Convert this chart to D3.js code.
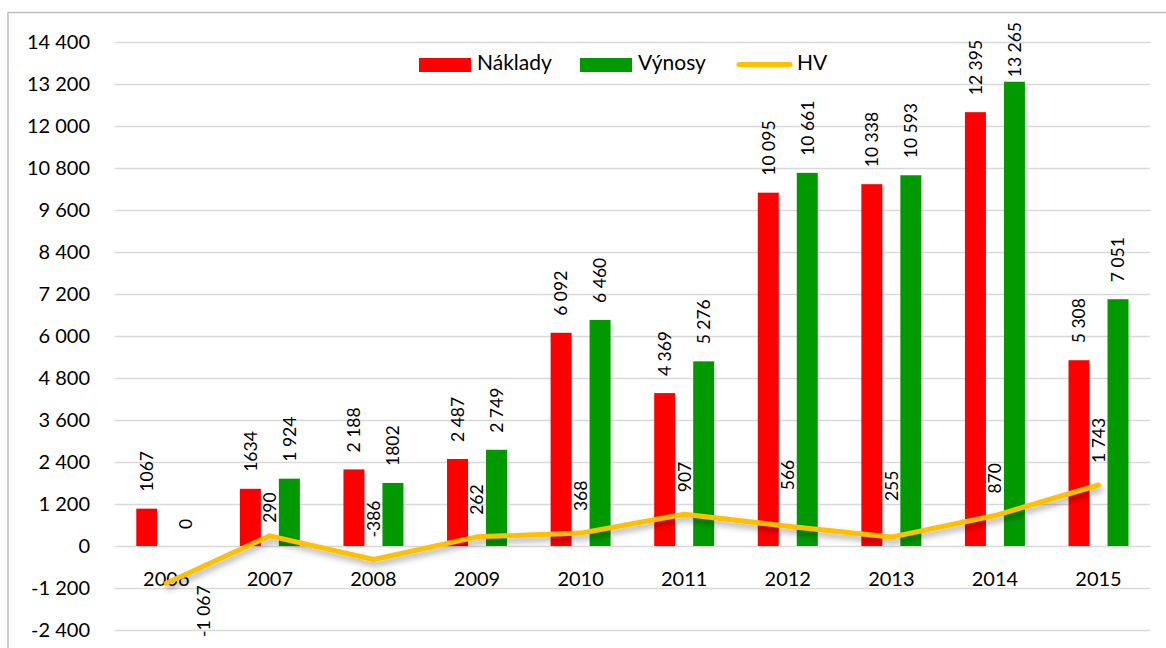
<!DOCTYPE html>
<html>
<head>
<meta charset="utf-8">
<script src="https://cdn.jsdelivr.net/npm/d3@7"></script>
<style>
  html, body { margin: 0; padding: 0; background: #fff; }
  svg { display: block; font-family: Lato, "Open Sans", sans-serif; }
</style>
</head>
<body>
<svg id="chart" width="1166" height="648"></svg>
<script>
// ---- data ----
const years = ["2006","2007","2008","2009","2010","2011","2012","2013","2014","2015"];
const naklady = [1067, 1634, 2188, 2487, 6092, 4369, 10095, 10338, 12395, 5308];
const vynosy  = [0, 1924, 1802, 2749, 6460, 5276, 10661, 10593, 13265, 7051];
const hv      = [-1067, 290, -386, 262, 368, 907, 566, 255, 870, 1743];
const nakladyLabels = ["1067","1634","2 188","2 487","6 092","4 369","10 095","10 338","12 395","5 308"];
const vynosyLabels  = ["0","1 924","1802","2 749","6 460","5 276","10 661","10 593","13 265","7 051"];
const hvLabels      = ["-1 067","290","-386","262","368","907","566","255","870","1 743"];
const yTicks = [-2400,-1200,0,1200,2400,3600,4800,6000,7200,8400,9600,10800,12000,13200,14400];
const seriesNames = ["Náklady","Výnosy","HV"];

// ---- styles ----
const colRed = "#ff0000", colGreen = "#009900", colLine = "#ffc000";
const textCol = "#000";

const svg = d3.select("#chart");
const defs = svg.append("defs");
const f = defs.append("filter").attr("id","shadow").attr("x","-10%").attr("y","-50%").attr("width","120%").attr("height","200%");
f.append("feDropShadow").attr("dx",2).attr("dy",4).attr("stdDeviation",3).attr("flood-color","#000").attr("flood-opacity",0.35);

// chart border
svg.append("rect").attr("x",8).attr("y",12.5).attr("width",1200).attr("height",700)
  .attr("fill","none").attr("stroke","#bfbfbf").attr("stroke-width",1.5);

const x = d3.scaleBand().domain(years).range([114.5, 1150.3]).padding(0);
const xs = d3.scaleBand().domain(["N","V"]).range([-30, 30]).paddingInner(0.4615).paddingOuter(0);
const y = d3.scaleLinear().domain([-2400, 14400]).range([630, 42]);
const fmt = d3.formatLocale({decimal: ",", thousands: " ", grouping: [3], currency: ["", ""], minus: "-"}).format(",d");

// gridlines
svg.append("g").selectAll("line").data(yTicks).join("line")
  .attr("x1", 114.5).attr("x2", 1150.3)
  .attr("y1", d => Math.round(y(d)) + 0.5).attr("y2", d => Math.round(y(d)) + 0.5)
  .attr("stroke", "#d9d9d9").attr("stroke-width", 1.5);

// y axis labels
const yAxis = d3.axisLeft(y).tickValues(yTicks).tickFormat(fmt).tickSize(0).tickPadding(0);
const gy = svg.append("g").attr("transform", "translate(90,0)").call(yAxis);
gy.select(".domain").remove();
gy.selectAll("text").attr("font-size", 20).attr("fill", textCol).attr("font-family", "Lato, 'Open Sans', sans-serif");

// x axis labels
svg.append("g").selectAll("text").data(years).join("text")
  .attr("x", d => x(d) + x.bandwidth()/2).attr("y", 586)
  .attr("text-anchor", "middle").attr("font-size", 20).attr("fill", textCol)
  .text(d => d);

// bars
const cx = i => x(years[i]) + x.bandwidth()/2;
const bars = svg.append("g");
bars.selectAll("rect.n").data(naklady).join("rect").attr("class","n")
  .attr("x", (d,i) => cx(i) + xs("N")).attr("width", xs.bandwidth())
  .attr("y", d => y(Math.max(0,d))).attr("height", d => Math.abs(y(d) - y(0)))
  .attr("fill", colRed);
bars.selectAll("rect.v").data(vynosy).join("rect").attr("class","v")
  .attr("x", (d,i) => cx(i) + xs("V")).attr("width", xs.bandwidth())
  .attr("y", d => y(Math.max(0,d))).attr("height", d => Math.abs(y(d) - y(0)))
  .attr("fill", colGreen);

// line
const line = d3.line().x((d,i) => cx(i)).y(d => y(d));
svg.append("path").datum(hv).attr("d", line)
  .attr("fill","none").attr("stroke", colLine).attr("stroke-width", 5)
  .attr("stroke-linejoin","round").attr("stroke-linecap","round")
  .attr("filter","url(#shadow)");

// bar labels (rotated)
function barLabels(vals, labels, key) {
  svg.append("g").selectAll("text").data(vals).join("text")
    .attr("transform", (d,i) => {
      const lx = cx(i) + xs(key) + xs.bandwidth()/2;
      const ly = y(d) - 17;
      return `translate(${lx},${ly}) rotate(-90)`;
    })
    .attr("dy", "0.36em").attr("text-anchor", "start")
    .attr("font-size", 17.5).attr("fill", textCol)
    .text((d,i) => labels[i])
    .each(function() {
      const bb = this.getBBox();
      const t = d3.select(this).attr("transform");
      const m = /translate\(([^,]+),([^)]+)\)/.exec(t);
      const lx = +m[1], ly = +m[2];
      if (ly - bb.width < 22) d3.select(this).attr("transform", `translate(${lx},${22 + bb.width}) rotate(-90)`);
    });
}
barLabels(naklady, nakladyLabels, "N");
barLabels(vynosy, vynosyLabels, "V");

// HV labels
const hvGap = {"2007": 13, "2012": 36, "2013": 36};
svg.append("g").selectAll("text").data(hv).join("text")
  .attr("transform", (d,i) => {
    if (years[i] === "2006") return `translate(${cx(i) + 37},${y(d) + 2}) rotate(-90)`;
    const g = hvGap[years[i]] ?? 22;
    return `translate(${cx(i)},${y(d) - g}) rotate(-90)`;
  })
  .attr("dy", "0.36em")
  .attr("text-anchor", (d,i) => years[i] === "2006" ? "end" : "start")
  .attr("font-size", 17.5).attr("fill", textCol)
  .text((d,i) => hvLabels[i]);

// legend
const lg = svg.append("g").attr("font-size", 21).attr("fill", textCol);
lg.append("rect").attr("x", 419).attr("y", 58).attr("width", 52).attr("height", 14).attr("fill", colRed);
lg.append("text").attr("x", 477).attr("y", 70).text(seriesNames[0]);
lg.append("rect").attr("x", 580).attr("y", 58).attr("width", 52).attr("height", 14).attr("fill", colGreen);
lg.append("text").attr("x", 638).attr("y", 70).text(seriesNames[1]);
lg.append("line").attr("x1", 739).attr("x2", 790).attr("y1", 64.5).attr("y2", 64.5)
  .attr("stroke", colLine).attr("stroke-width", 5).attr("stroke-linecap", "round");
lg.append("text").attr("x", 797).attr("y", 70).text(seriesNames[2]);
</script>
</body>
</html>
